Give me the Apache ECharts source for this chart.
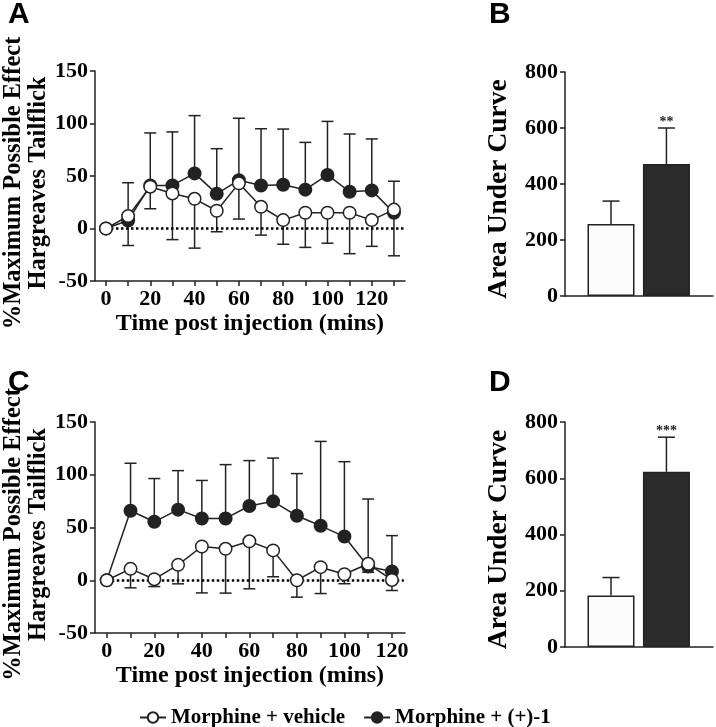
<!DOCTYPE html>
<html>
<head>
<meta charset="utf-8">
<script src="https://cdn.jsdelivr.net/npm/echarts@6/dist/echarts.min.js"></script>
<style>
  html, body { margin: 0; padding: 0; background: #fff; }
</style>
</head>
<body>
<div id="main" style="width:716px;height:727px;"></div>
<script type="text/javascript">
// time course, panel A
var timeA = [0, 10, 20, 30, 40, 50, 60, 70, 80, 90, 100, 110, 120, 130];
var vehicleA = [0, 11.8, 39.8, 33.4, 28.3, 16.9, 43, 20.7, 8, 15, 15, 15, 8, 18];
var vehicleErrA = [0, 28, 21, 44, 47, 20, 34, 27, 23, 33, 29, 39, 25, 44];
var drugA = [0, 7.6, 41, 41, 52.5, 33, 46, 41, 41.7, 37, 51, 35, 36.3, 15];
var drugErrA = [0, 36, 50, 51, 55, 43, 59, 54, 53, 45, 51, 55, 49, 30];

// time course, panel C
var timeC = [0, 10, 20, 30, 40, 50, 60, 70, 80, 90, 100, 110, 120];
var vehicleC = [0, 10.8, 1, 14.6, 32, 29.8, 36.9, 28.3, 0, 12.4, 5.7, 15.6, 0.3];
var vehicleErrC = [0, 18, 7, 18, 44, 42, 45, 25, 16, 25, 9, 8, 10];
var drugC = [0, 65.9, 55.4, 66.9, 58.6, 58.6, 70.4, 74.8, 61.1, 51.6, 41.4, 13, 8.3];
var drugErrC = [0, 45, 41, 37, 36, 51, 43, 41, 40, 80, 71, 64, 34];

// area under curve, panels B and D
var groups = ['Morphine + vehicle', 'Morphine + (+)-1'];
var aucB = [257, 471];
var aucErrB = [82, 129];
var starsB = ['', '**'];
var aucD = [183, 623];
var aucErrD = [64, 123];
var starsD = ['', '***'];

var ticksA = [0, 10, 20, 30, 40, 50, 60, 70, 80, 90, 100, 110, 120, 130];
var ticksC = [0, 10, 20, 30, 40, 50, 60, 70, 80, 90, 100, 110, 120];
var labelsX = [0, 20, 40, 60, 80, 100, 120];

var FONT = "'Liberation Serif', 'Times New Roman', serif";
var INK = '#222';

function pairs(xs, ys, es) {
    return xs.map(function (x, i) { return es ? [x, ys[i], es[i]] : [x, ys[i]]; });
}

// vertical error bar with cap, dir = 1 up, -1 down
function errRender(dir, capW, stars) {
    return function (params, api) {
        var x = api.value(0), y = api.value(1), e = api.value(2);
        if (!e) return;
        var p0 = api.coord([x, y]);
        var p1 = api.coord([x, y + dir * e]);
        var kids = [
            { type: 'line', shape: { x1: p0[0], y1: p0[1], x2: p1[0], y2: p1[1] },
              style: { stroke: INK, lineWidth: 1.5 } },
            { type: 'line', shape: { x1: p1[0] - capW / 2, y1: p1[1], x2: p1[0] + capW / 2, y2: p1[1] },
              style: { stroke: INK, lineWidth: 1.5 } }
        ];
        if (stars && stars[params.dataIndex]) {
            kids.push({ type: 'text', style: { text: stars[params.dataIndex], x: p1[0], y: p1[1] + 1,
                align: 'center', verticalAlign: 'bottom', font: 'bold 14px ' + FONT, fill: INK } });
        }
        return { type: 'group', children: kids };
    };
}

var axisLine = { onZero: false, lineStyle: { color: INK, width: 1.5 } };
var axisTick = { inside: false, length: 5, lineStyle: { color: INK, width: 1.5 } };
var tickLabel = { color: '#000', fontFamily: FONT, fontWeight: 'bold', fontSize: 22, margin: 7 };
var nameStyle = { color: '#000', fontFamily: FONT, fontWeight: 'bold', fontSize: 24.5, lineHeight: 25 };

function timeXAxis(grid, max, ticks) {
    return {
        type: 'value', gridIndex: grid, min: -5, max: max,
        axisLine: axisLine,
        axisTick: Object.assign({ customValues: ticks }, axisTick),
        axisLabel: Object.assign({ customValues: labelsX }, tickLabel),
        splitLine: { show: false },
        name: 'Time post injection (mins)', nameLocation: 'middle', nameGap: 30,
        nameTextStyle: Object.assign({}, nameStyle, { fontSize: 24 })
    };
}
function timeYAxis(grid) {
    return {
        type: 'value', gridIndex: grid, min: -50, max: 150, interval: 50,
        axisLine: Object.assign({ show: true }, axisLine), axisTick: axisTick, axisLabel: tickLabel,
        splitLine: { show: false },
        name: '%Maximum Possible Effect\nHargreaves Tailflick', nameLocation: 'middle', nameGap: 42,
        nameTextStyle: Object.assign({ padding: [0, 14, 0, 0] }, nameStyle)
    };
}
function barXAxis(grid) {
    return {
        type: 'value', gridIndex: grid, min: 0.17, max: 2.84,
        axisLine: axisLine, axisTick: { show: false }, axisLabel: { show: false },
        splitLine: { show: false }
    };
}
function barYAxis(grid) {
    return {
        type: 'value', gridIndex: grid, min: 0, max: 800, interval: 200,
        axisLine: Object.assign({ show: true }, axisLine), axisTick: axisTick, axisLabel: tickLabel,
        splitLine: { show: false },
        name: 'Area Under Curve', nameLocation: 'middle', nameGap: 54,
        nameTextStyle: Object.assign({}, nameStyle, { fontSize: 27.5, padding: [0, 10, 0, 0] })
    };
}

function lineSeries(name, xs, ys, filled, idx) {
    return {
        name: name, type: 'line', xAxisIndex: idx, yAxisIndex: idx, z: 5,
        data: pairs(xs, ys),
        symbol: 'circle', symbolSize: 12.5,
        lineStyle: { color: INK, width: 1.5 },
        itemStyle: { color: filled ? INK : '#fff', borderColor: INK, borderWidth: 1.5 },
        emphasis: { disabled: true }
    };
}
function errSeries(xs, ys, es, dir, idx) {
    return {
        type: 'custom', xAxisIndex: idx, yAxisIndex: idx, z: 2,
        data: pairs(xs, ys, es), renderItem: errRender(dir, 12)
    };
}
function zeroLine(idx, end) {
    return {
        type: 'line', xAxisIndex: idx, yAxisIndex: idx, data: [], z: 1,
        markLine: {
            silent: true, symbol: 'none', label: { show: false },
            lineStyle: { type: [2.5, 2.5], color: '#000', width: 2.5 },
            data: [[{ coord: [0, 0] }, { coord: [end, 0] }]]
        }
    };
}
function barSeries(vals, idx) {
    return {
        type: 'bar', xAxisIndex: idx, yAxisIndex: idx, barWidth: 47, z: 2,
        data: vals.map(function (v, i) {
            return { value: [i + 1, v], itemStyle: { color: i === 0 ? '#fcfcfc' : '#2b2b2b',
                borderColor: INK, borderWidth: 1.5 } };
        })
    };
}
function barErr(vals, errs, stars, idx) {
    return {
        type: 'custom', xAxisIndex: idx, yAxisIndex: idx, z: 1,
        data: vals.map(function (v, i) { return [i + 1, v, errs[i]]; }),
        renderItem: errRender(1, 17, stars)
    };
}

var chart = echarts.init(document.getElementById('main'));
var letter = { fontFamily: "'Liberation Sans', Arial, sans-serif", fontWeight: 'bold', fontSize: 30, color: '#000' };
chart.setOption({
    animation: false,
    title: [
        { text: 'A', left: 8, top: 0, textStyle: letter, padding: 0 },
        { text: 'B', left: 489, top: 0, textStyle: letter, padding: 0 },
        { text: 'C', left: 8, top: 368, textStyle: letter, padding: 0 },
        { text: 'D', left: 489, top: 368, textStyle: letter, padding: 0 }
    ],
    legend: {
        data: groups, left: 134, top: 702, itemWidth: 26, itemHeight: 13, itemGap: 18,
        textStyle: { fontFamily: FONT, fontWeight: 'bold', fontSize: 21, color: '#000' }
    },
    grid: [
        { left: 87, top: 71, width: 318, height: 210 },
        { left: 565, top: 72, width: 148, height: 224 },
        { left: 87, top: 422, width: 318, height: 211 },
        { left: 565, top: 422, width: 148, height: 225 }
    ],
    xAxis: [timeXAxis(0, 135, ticksA), barXAxis(1), timeXAxis(2, 125.5, ticksC), barXAxis(3)],
    yAxis: [timeYAxis(0), barYAxis(1), timeYAxis(2), barYAxis(3)],
    series: [
        zeroLine(0, 134.5),
        errSeries(timeA, drugA, drugErrA, 1, 0),
        errSeries(timeA, vehicleA, vehicleErrA, -1, 0),
        lineSeries(groups[1], timeA, drugA, true, 0),
        lineSeries(groups[0], timeA, vehicleA, false, 0),

        barSeries(aucB, 1),
        barErr(aucB, aucErrB, starsB, 1),

        zeroLine(2, 125),
        errSeries(timeC, drugC, drugErrC, 1, 2),
        errSeries(timeC, vehicleC, vehicleErrC, -1, 2),
        lineSeries(groups[1], timeC, drugC, true, 2),
        lineSeries(groups[0], timeC, vehicleC, false, 2),

        barSeries(aucD, 3),
        barErr(aucD, aucErrD, starsD, 3)
    ]
});
</script>
</body>
</html>
